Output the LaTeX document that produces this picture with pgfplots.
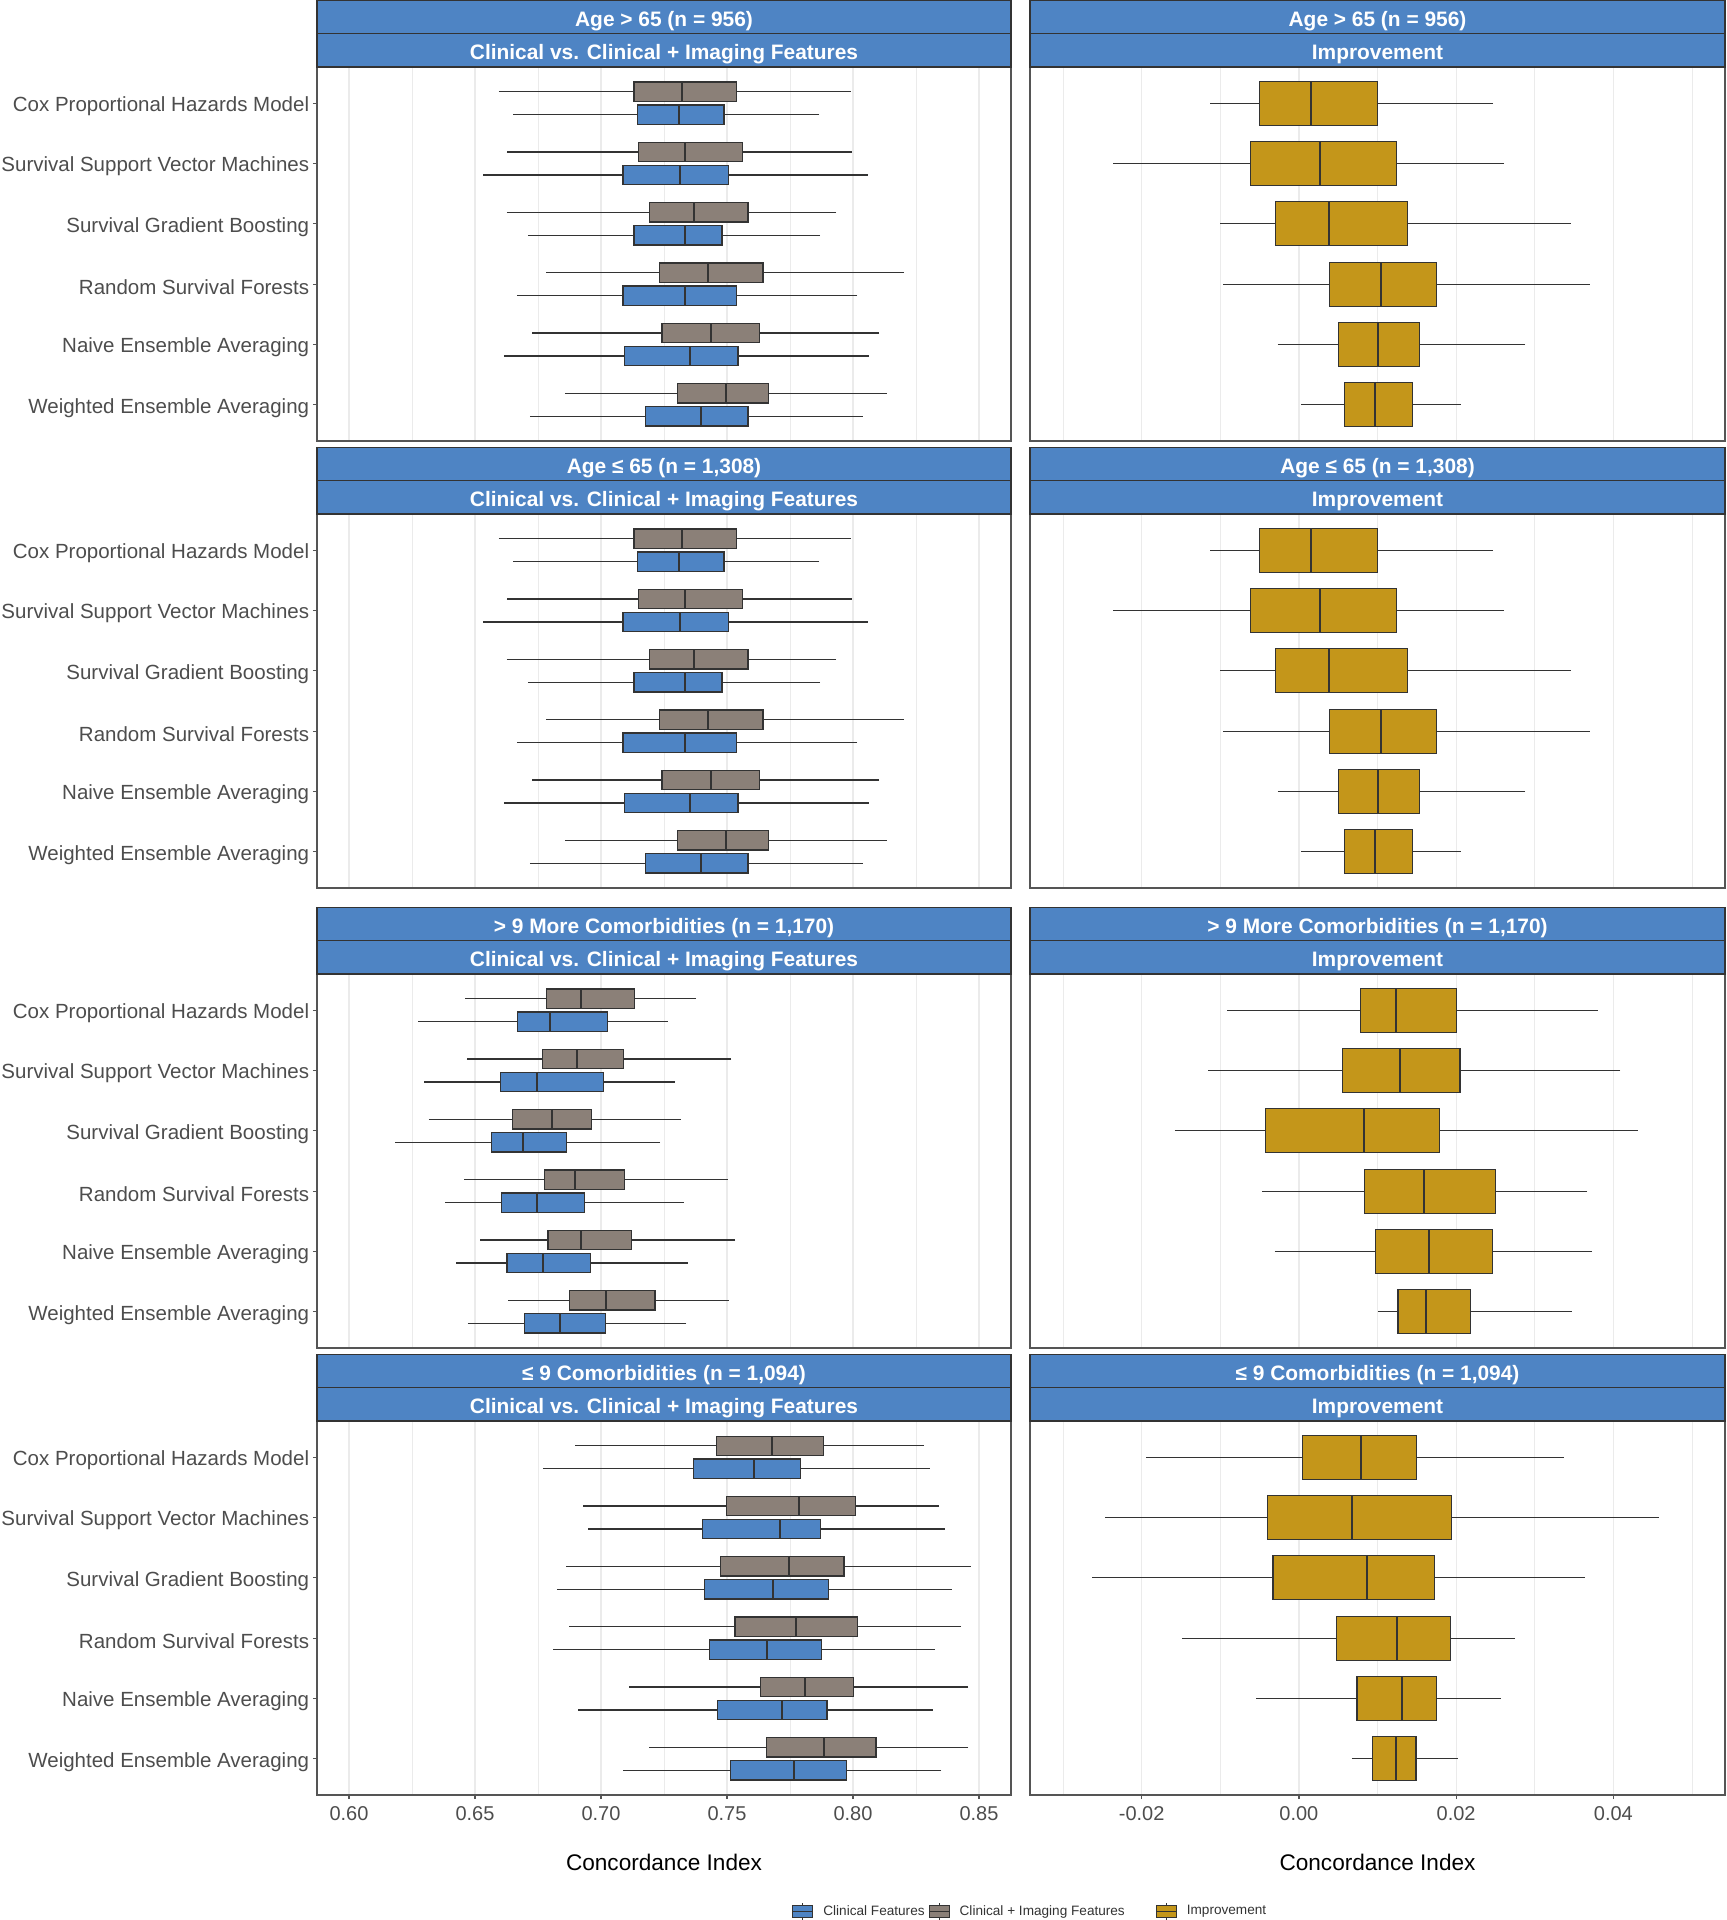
\documentclass[border=0pt]{standalone}
\usepackage{pgfplots}
\pgfplotsset{compat=1.18}
\usepgfplotslibrary{statistics}
\usepackage{pgfplotstable}
\usepackage{fontspec}
\setmainfont{Liberation Sans}

\definecolor{cblue}{HTML}{4E84C4}
\definecolor{cgray}{HTML}{8B8078}
\definecolor{cgold}{HTML}{C4961A}
\definecolor{stripc}{HTML}{4E84C4}
\definecolor{linec}{HTML}{333333}
\definecolor{gridc}{HTML}{EBEBEB}
\definecolor{framec}{HTML}{555555}
\definecolor{labc}{HTML}{4D4D4D}

% columns: lower whisker, lower quartile, median, upper quartile, upper whisker
% one row per model, top to bottom
\pgfplotstableread{
lw lq med uq uw
0.6594 0.7131 0.7322 0.7537 0.7991
0.6625 0.7149 0.7335 0.7563 0.7996
0.6625 0.7191 0.7371 0.7583 0.7934
0.6783 0.7232 0.7426 0.7643 0.8203
0.6726 0.7242 0.7436 0.7630 0.8105
0.6857 0.7304 0.7498 0.7666 0.8133
}\aLg
\pgfplotstableread{
lw lq med uq uw
0.6651 0.7144 0.7309 0.7488 0.7867
0.6532 0.7087 0.7315 0.7506 0.8061
0.6710 0.7131 0.7333 0.7480 0.7870
0.6666 0.7087 0.7333 0.7537 0.8017
0.6615 0.7092 0.7353 0.7544 0.8064
0.6718 0.7175 0.7395 0.7583 0.8038
}\aLb
\pgfplotstableread{
lw lq med uq uw
-0.0113 -0.0050 0.0016 0.0100 0.0247
-0.0236 -0.0062 0.0027 0.0124 0.0261
-0.0100 -0.0030 0.0038 0.0138 0.0346
-0.0096 0.0039 0.0104 0.0175 0.0370
-0.0027 0.0050 0.0100 0.0153 0.0288
0.0003 0.0058 0.0097 0.0144 0.0206
}\aR
\pgfplotstableread{
lw lq med uq uw
0.6461 0.6785 0.6921 0.7132 0.7377
0.6467 0.6769 0.6905 0.7088 0.7517
0.6316 0.6649 0.6805 0.6963 0.7317
0.6458 0.6776 0.6898 0.7092 0.7503
0.6521 0.6790 0.6921 0.7121 0.7533
0.6632 0.6874 0.7021 0.7214 0.7506
}\cLg
\pgfplotstableread{
lw lq med uq uw
0.6274 0.6670 0.6796 0.7027 0.7265
0.6298 0.6601 0.6745 0.7010 0.7295
0.6184 0.6567 0.6689 0.6863 0.7235
0.6382 0.6605 0.6745 0.6936 0.7328
0.6425 0.6627 0.6770 0.6959 0.7346
0.6471 0.6696 0.6839 0.7017 0.7339
}\cLb
\pgfplotstableread{
lw lq med uq uw
-0.0091 0.0078 0.0123 0.0200 0.0380
-0.0115 0.0055 0.0128 0.0205 0.0409
-0.0158 -0.0042 0.0083 0.0179 0.0431
-0.0047 0.0083 0.0159 0.0250 0.0367
-0.0031 0.0097 0.0165 0.0246 0.0373
0.0100 0.0126 0.0162 0.0218 0.0347
}\cR
\pgfplotstableread{
lw lq med uq uw
0.6898 0.7459 0.7677 0.7884 0.8282
0.6928 0.7499 0.7786 0.8011 0.8342
0.6863 0.7473 0.7746 0.7964 0.8467
0.6874 0.7532 0.7775 0.8019 0.8429
0.7112 0.7632 0.7810 0.8002 0.8458
0.7192 0.7657 0.7886 0.8091 0.8458
}\dLg
\pgfplotstableread{
lw lq med uq uw
0.6769 0.7368 0.7608 0.7793 0.8304
0.6950 0.7403 0.7711 0.7871 0.8364
0.6825 0.7412 0.7681 0.7904 0.8391
0.6810 0.7430 0.7659 0.7875 0.8326
0.6910 0.7463 0.7719 0.7897 0.8316
0.7088 0.7515 0.7766 0.7975 0.8351
}\dLb
\pgfplotstableread{
lw lq med uq uw
-0.0194 0.0005 0.0079 0.0150 0.0337
-0.0246 -0.0040 0.0067 0.0194 0.0458
-0.0263 -0.0033 0.0086 0.0172 0.0364
-0.0149 0.0048 0.0125 0.0193 0.0275
-0.0054 0.0074 0.0131 0.0175 0.0257
0.0067 0.0094 0.0124 0.0149 0.0202
}\dR

% #1 table, #2 offset of first box position, #3 style
\newcommand{\drawboxes}[3]{%
  \pgfplotsinvokeforeach{0,...,5}{%
    \pgfplotstablegetelem{##1}{lw}\of#1\let\vlw\pgfplotsretval
    \pgfplotstablegetelem{##1}{lq}\of#1\let\vlq\pgfplotsretval
    \pgfplotstablegetelem{##1}{med}\of#1\let\vmed\pgfplotsretval
    \pgfplotstablegetelem{##1}{uq}\of#1\let\vuq\pgfplotsretval
    \pgfplotstablegetelem{##1}{uw}\of#1\let\vuw\pgfplotsretval
    \edef\doplot{\noexpand\addplot[#3, forget plot,
      boxplot prepared={draw position={##1+#2},
        lower whisker=\vlw, lower quartile=\vlq, median=\vmed,
        upper quartile=\vuq, upper whisker=\vuw}] coordinates {};}%
    \doplot
  }}

\newcommand{\legbox}[1]{%
  \draw[draw=linec, line width=0.4pt] (5pt,-4.5pt) -- (5pt,4.5pt);
  \filldraw[fill=#1, draw=linec, line width=0.4pt] (0pt,-3pt) rectangle (10pt,3pt);
  \draw[draw=linec, line width=0.5pt] (0pt,0pt) -- (10pt,0pt);}

\newcommand{\strip}[5]{% x0, x1, panel top, line 1, line 2
  \filldraw[fill=stripc, draw=linec, line width=0.6pt] (#1,#3-33.2) rectangle (#2,#3-16.6);
  \filldraw[fill=stripc, draw=linec, line width=0.6pt] (#1,#3-16.6) rectangle (#2,#3);
  \node[text=white, font=\bfseries\fontsize{10.45}{12}\selectfont] at ({(#1+#2)/2},#3-23.0) {#4};
  \node[text=white, font=\bfseries\fontsize{10.45}{12}\selectfont] at ({(#1+#2)/2},#3-6.4) {#5};}

\pgfplotsset{
  gbox/.style={fill=cgray, draw=linec, line width=0.6pt},
  bbox/.style={fill=cblue, draw=linec, line width=0.6pt},
  obox/.style={fill=cgold, draw=linec, line width=0.6pt},
  panel/.style={
    scale only axis, anchor=north west, height=187pt,
    ymin=0.4, ymax=6.6, y dir=reverse, ytick={1,2,3,4,5,6},
    boxplot/draw direction=x, boxplot/whisker extend=0,
    boxplot/every whisker/.style={draw=linec, line width=0.6pt},
    boxplot/every median/.style={draw=linec, line width=1pt},
    xmajorgrids, xminorgrids,
    major grid style={draw=gridc, line width=0.6pt},
    minor grid style={draw=gridc, line width=0.35pt},
    axis line style={draw=framec, line width=0.7pt},
    tick align=outside, major tick length=2pt, minor tick length=0pt,
    tick style={draw=framec, line width=0.6pt},
    xtick pos=bottom, ytick pos=left, scaled x ticks=false,
    /pgf/number format/fixed, /pgf/number format/fixed zerofill,
    /pgf/number format/precision=2,
    /pgf/number format/assume math mode=true,
  },
  lpanel/.style={panel, width=347pt, xmin=0.5873, xmax=0.8627,
    xtick={0.6,0.65,0.7,0.75,0.8,0.85},
    minor xtick={0.625,0.675,0.725,0.775,0.825},
    boxplot/box extend=0.32,
    yticklabels={Cox Proportional Hazards Model, Survival Support Vector Machines,
      Survival Gradient Boosting, Random Survival Forests,
      Naive Ensemble Averaging, Weighted Ensemble Averaging},
    yticklabel style={font=\fontsize{10.25}{12}\selectfont, text=labc,
      yshift=-1.5pt, xshift=1.6pt}},
  rpanel/.style={panel, width=347.5pt, xmin=-0.0342, xmax=0.0542,
    xtick={-0.02,0,0.02,0.04}, minor xtick={-0.03,-0.01,0.01,0.03,0.05},
    boxplot/box extend=0.73, yticklabels={}, ytick style={draw=none}},
  toprow/.style={xticklabels={}, xtick style={draw=none}},
  botrow/.style={
    xticklabel style={font=\fontsize{10}{12}\selectfont, text=labc},
    xlabel={Concordance Index},
    xlabel style={at={(axis description cs:0.5,0)}, anchor=center, yshift=-33.5pt,
      font=\fontsize{11.3}{13}\selectfont, text=black}},
}

\begin{document}
\begin{tikzpicture}
\useasboundingbox (0pt,0pt) rectangle (863pt,-960pt);

% Age > 65
\begin{axis}[lpanel, toprow, at={(158.5pt,-33.5pt)}]
\drawboxes{\aLg}{0.81}{gbox}
\drawboxes{\aLb}{1.19}{bbox}
\end{axis}
\begin{axis}[rpanel, toprow, at={(515pt,-33.5pt)}]
\drawboxes{\aR}{1}{obox}
\end{axis}

% Age <= 65
\begin{axis}[lpanel, toprow, at={(158.5pt,-257pt)}]
\drawboxes{\aLg}{0.81}{gbox}
\drawboxes{\aLb}{1.19}{bbox}
\end{axis}
\begin{axis}[rpanel, toprow, at={(515pt,-257pt)}]
\drawboxes{\aR}{1}{obox}
\end{axis}

% > 9 comorbidities
\begin{axis}[lpanel, toprow, at={(158.5pt,-487pt)}]
\drawboxes{\cLg}{0.81}{gbox}
\drawboxes{\cLb}{1.19}{bbox}
\end{axis}
\begin{axis}[rpanel, toprow, at={(515pt,-487pt)}]
\drawboxes{\cR}{1}{obox}
\end{axis}

% <= 9 comorbidities
\begin{axis}[lpanel, botrow, at={(158.5pt,-710.5pt)},
  legend columns=3,
  legend style={at={(axis description cs:0.6844,-0.312)}, anchor=west,
    draw=none, fill=none, inner xsep=0pt, inner ysep=0pt,
    font=\fontsize{6.8}{8}\selectfont, text=black!80,
    /tikz/column 1/.style={column sep=3pt},
    /tikz/column 2/.style={column sep=0pt},
    /tikz/column 3/.style={column sep=3pt},
    /tikz/column 4/.style={column sep=13.5pt},
    /tikz/column 5/.style={column sep=3pt}},
  legend cell align=left]
\drawboxes{\dLg}{0.81}{gbox}
\drawboxes{\dLb}{1.19}{bbox}
\addlegendimage{legend image code/.code={\legbox{cblue}}}
\addlegendentry{Clinical Features}
\addlegendimage{legend image code/.code={\legbox{cgray}}}
\addlegendentry{Clinical + Imaging Features}
\addlegendimage{legend image code/.code={\legbox{cgold}}}
\addlegendentry{Improvement}
\end{axis}
\begin{axis}[rpanel, botrow, at={(515pt,-710.5pt)}]
\drawboxes{\dR}{1}{obox}
\end{axis}

\begin{scope}[x=1pt, y=-1pt]
\strip{158.5}{505.5}{33.5}{Age > 65 (n = 956)}{Clinical vs. Clinical + Imaging Features}
\strip{515}{862.5}{33.5}{Age > 65 (n = 956)}{Improvement}
\strip{158.5}{505.5}{257}{Age ≤ 65 (n = 1,308)}{Clinical vs. Clinical + Imaging Features}
\strip{515}{862.5}{257}{Age ≤ 65 (n = 1,308)}{Improvement}
\strip{158.5}{505.5}{487}{> 9 More Comorbidities (n = 1,170)}{Clinical vs. Clinical + Imaging Features}
\strip{515}{862.5}{487}{> 9 More Comorbidities (n = 1,170)}{Improvement}
\strip{158.5}{505.5}{710.5}{≤ 9 Comorbidities (n = 1,094)}{Clinical vs. Clinical + Imaging Features}
\strip{515}{862.5}{710.5}{≤ 9 Comorbidities (n = 1,094)}{Improvement}
\end{scope}
\end{tikzpicture}
\end{document}
